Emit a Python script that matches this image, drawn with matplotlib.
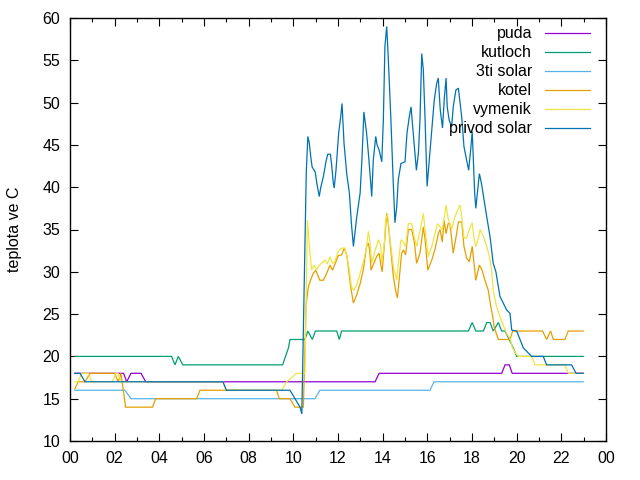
import matplotlib
matplotlib.use("Agg")
import matplotlib.pyplot as plt
from matplotlib.lines import Line2D
from matplotlib.ticker import MultipleLocator

plt.rcParams['font.family'] = ['Liberation Sans', 'DejaVu Sans']

# ---------------- data (time in hours, temperature in deg C) ----------------
puda_t = [0.22, 2.40, 2.54, 2.73, 3.18, 3.39, 13.66, 13.84, 19.33, 19.48, 19.67, 19.80, 22.98]
puda_v = [18, 18, 17, 18, 18, 17, 17, 18, 18, 19, 19, 18, 18]

kutloch_t = [0.22, 4.55, 4.70, 4.85, 5.05, 9.52, 9.78, 9.85, 10.52, 10.65, 10.85, 10.99,
             11.94, 12.06, 12.16, 17.84, 18.01, 18.17, 18.51, 18.66, 18.81, 18.95, 19.18,
             19.33, 19.48, 19.85, 20.00, 22.98]
kutloch_v = [20, 20, 19, 20, 19, 19, 21, 22, 22, 23, 22, 23,
             23, 22, 23, 23, 24, 23, 23, 24, 24, 23, 24,
             23, 23, 21, 20, 20]

solar3_t = [0.22, 2.46, 2.73, 10.97, 11.19, 16.12, 16.30, 22.98]
solar3_v = [16, 16, 15, 15, 16, 16, 17, 17]

kotel_t = [0.22, 0.37, 0.67, 0.90, 2.01, 2.16, 2.28, 2.49, 3.69, 3.84, 5.67, 5.82, 9.25, 9.37,
           9.85, 10.07, 10.45, 10.57, 10.67, 10.77, 10.89, 11.00, 11.19, 11.34, 11.49, 11.64,
           11.76, 12.01, 12.16, 12.28, 12.39, 12.46, 12.57, 12.69, 12.84, 12.99, 13.13, 13.28,
           13.36, 13.42, 13.48, 13.73, 13.84, 13.93, 13.98, 14.10, 14.18, 14.25, 14.48, 14.58,
           14.66, 14.85, 14.93, 15.03, 15.15, 15.30, 15.42, 15.52, 15.67, 15.82, 15.90, 16.02,
           16.20, 16.34, 16.49, 16.57, 16.67, 16.75, 16.84, 16.93, 17.01, 17.16, 17.31, 17.39,
           17.54, 17.64, 17.76, 17.88, 18.01, 18.09, 18.17, 18.33, 18.45, 18.58, 18.73, 18.84,
           18.93, 18.99, 19.18, 19.70, 19.82, 21.16, 21.34, 21.52, 21.64, 22.16, 22.31, 22.98]
kotel_v = [16.2, 17, 17, 18, 18, 17, 18, 14, 14, 15, 15, 16, 16, 15,
           15, 14, 14, 26, 28.2, 29, 29.8, 30.2, 29, 29, 29.8, 30.8,
           30.2, 31.9, 32, 32.8, 32, 30.6, 28.2, 26.3, 27.3, 28.6, 30.2, 33.0,
           33.4, 32.5, 30.2, 31.8, 32.2, 30.6, 30, 34.1, 36.9, 35.7, 29.4, 27.8,
           26.9, 32.2, 32.6, 32, 35, 35, 33.5, 31, 32.2, 35.3, 33.8, 30.2,
           31.4, 32.6, 34.5, 35, 33.5, 36.1, 34.5, 35.7, 35.7, 32.2, 34.5, 35.9,
           35.9, 33, 31.6, 31.2, 33, 31, 29, 30.8, 30.2, 29, 27.8, 25.9,
           24.7, 23.5, 22, 22, 23, 23, 22, 23, 22, 22, 23, 23]

vymenik_t = [0.22, 0.37, 0.52, 0.82, 0.97, 1.90, 2.05, 2.15, 2.30, 6.85, 7.00, 9.48, 9.70,
             10.15, 10.52, 10.63, 10.72, 10.82, 10.92, 11.04, 11.16, 11.27, 11.41, 11.52,
             11.64, 11.76, 11.85, 12.01, 12.16, 12.31, 12.42, 12.51, 12.60, 12.71, 12.84,
             12.99, 13.16, 13.28, 13.36, 13.43, 13.51, 13.66, 13.81, 13.90, 13.96, 14.08,
             14.13, 14.22, 14.33, 14.48, 14.63, 14.70, 14.82, 14.93, 15.03, 15.15, 15.30,
             15.42, 15.52, 15.67, 15.82, 15.90, 16.04, 16.20, 16.34, 16.46, 16.57, 16.67,
             16.76, 16.84, 16.93, 17.09, 17.19, 17.31, 17.47, 17.54, 17.64, 17.76, 17.88,
             18.01, 18.09, 18.17, 18.29, 18.36, 18.51, 18.66, 18.78, 18.88, 18.95, 19.10,
             19.25, 19.40, 19.55, 19.70, 19.82, 19.95, 20.07, 20.67, 20.82, 22.16, 22.31, 22.98]
vymenik_v = [17, 17, 18, 18, 17, 17, 18, 18, 17, 17, 16, 16, 17,
             18, 18, 36.1, 33, 30.2, 30.8, 30.2, 30.8, 31, 31.4, 30.9,
             31.8, 31, 31.2, 32.4, 32.8, 32.8, 31.5, 30.2, 28.2, 27.8, 28.5,
             29.8, 31.4, 33, 34.8, 33.5, 31, 32.5, 33.8, 33.2, 31, 33.5,
             36.1, 36.9, 33.8, 30.6, 29, 31, 33.8, 33.5, 33, 35.7, 35.7,
             34.1, 33, 34.8, 36.9, 35, 31.8, 33, 34.5, 35.7, 35.3, 35,
             36.5, 37.9, 36.3, 35, 36.1, 37, 37.9, 36.5, 34, 34, 35,
             35.8, 34, 33, 34, 35, 34.2, 33, 31.8, 30.2, 27.8, 25.9,
             24.7, 23.7, 22.7, 22.1, 21, 20.4, 20, 20, 19, 19, 18, 18]

privod_t = [0.22, 0.45, 0.67, 6.85, 7.00, 9.85, 10.30, 10.38, 10.58, 10.65, 10.71, 10.78,
            10.84, 10.98, 11.05, 11.16, 11.23, 11.34, 11.46, 11.54, 11.66, 11.72, 11.79,
            11.83, 11.91, 12.03, 12.12, 12.18, 12.27, 12.39, 12.51, 12.60, 12.69, 12.84,
            12.99, 13.07, 13.16, 13.28, 13.36, 13.43, 13.51, 13.58, 13.69, 13.75, 13.84,
            13.96, 14.03, 14.10, 14.18, 14.22, 14.28, 14.37, 14.48, 14.55, 14.63, 14.70,
            14.82, 15.00, 15.09, 15.19, 15.27, 15.42, 15.51, 15.60, 15.67, 15.75, 15.82,
            15.90, 15.99, 16.20, 16.31, 16.42, 16.49, 16.58, 16.68, 16.76, 16.84, 16.89,
            16.98, 17.09, 17.16, 17.28, 17.39, 17.54, 17.64, 17.76, 17.85, 17.94, 18.01,
            18.12, 18.17, 18.33, 18.42, 18.54, 18.66, 18.81, 18.95, 19.07, 19.25, 19.55,
            19.70, 19.78, 20.00, 20.30, 20.67, 21.19, 21.34, 22.46, 22.66, 22.98]
privod_v = [18, 18, 17, 17, 16, 16, 14, 13.2, 41.8, 46, 45.3, 43.6,
            42.4, 41.8, 40.5, 38.9, 40, 41.2, 43, 43.9, 43.9, 42.5, 40.5,
            39.9, 42, 46.4, 48.3, 49.9, 45.2, 41.6, 39.3, 35.7, 33.0, 36.5,
            39.3, 43.2, 48.9, 46.4, 44, 41.7, 38.9, 43.2, 46.0, 45, 44.4,
            43.0, 47.9, 56.6, 59, 57, 53.5, 47.9, 40.1, 35.8, 37.7, 40.9,
            42.8, 43, 46.4, 48.3, 49.5, 44.8, 42, 44, 47.9, 55.8, 53.9,
            47.9, 40.1, 46.8, 50.3, 52.3, 52.9, 49.1, 47, 50.5, 52.9, 49.5,
            47.9, 47.2, 49.5, 51.5, 51.7, 48.3, 44.8, 43.2, 42, 44.4, 46.6,
            39.3, 37.5, 41.6, 40.5, 38.5, 36.5, 34.1, 31, 30, 27.1, 25.5,
            25.1, 23.1, 23, 21, 20, 20, 19, 19, 18, 18]

series_names = ["puda", "kutloch", "3ti solar", "kotel", "vymenik", "privod solar"]
series_colors = ["#9400d3", "#009e73", "#56b4e9", "#e69f00", "#f0e442", "#0072b2"]
series_data = [(puda_t, puda_v), (kutloch_t, kutloch_v), (solar3_t, solar3_v),
               (kotel_t, kotel_v), (vymenik_t, vymenik_v), (privod_t, privod_v)]

x_ticks = list(range(0, 25, 2))
x_ticklabels = ["00", "02", "04", "06", "08", "10", "12", "14", "16", "18", "20", "22", "00"]
y_ticks = list(range(10, 61, 5))

# ---------------- figure ----------------
fig = plt.figure(figsize=(6.4, 4.8), dpi=100)
W, H = 640, 480
ax = fig.add_axes([70 / W, 1 - 441 / H, (606 - 70) / W, (441 - 18) / H])

lw = 0.9
for (t, v), c in zip(series_data, series_colors):
    ax.plot(t, v, color=c, lw=lw, solid_joinstyle='miter')

ax.set_xlim(0, 24)
ax.set_ylim(10, 60)
ax.set_xticks(x_ticks)
ax.set_xticklabels(x_ticklabels)
ax.xaxis.set_minor_locator(MultipleLocator(1))
ax.set_yticks(y_ticks)

fs = 11.5
ax.tick_params(axis='both', which='major', direction='in', length=6, width=0.8,
               top=True, right=True, labelsize=fs, pad=7)
ax.tick_params(axis='x', which='minor', direction='in', length=3, width=0.8,
               top=True, bottom=True)
for s in ax.spines.values():
    s.set_linewidth(1.0)

ax.set_ylabel("teplota ve C", fontsize=fs)
ax.yaxis.set_label_coords((22 - 70) / (606 - 70), 0.5)

# legend (gnuplot style: right-aligned text, sample line to the right)
row0 = (441 - 33.3) / 423
step = 19 / 423
text_x = (532 - 70) / 536
l0 = (545 - 70) / 536
l1 = (590 - 70) / 536
for i, (name, c) in enumerate(zip(series_names, series_colors)):
    yy = row0 - i * step
    ax.text(text_x, yy, name, transform=ax.transAxes, ha='right', va='center',
            fontsize=fs, color='#000000')
    ax.add_line(Line2D([l0, l1], [yy, yy], transform=ax.transAxes, color=c, lw=lw))

fig.savefig("out.png", dpi=100)
